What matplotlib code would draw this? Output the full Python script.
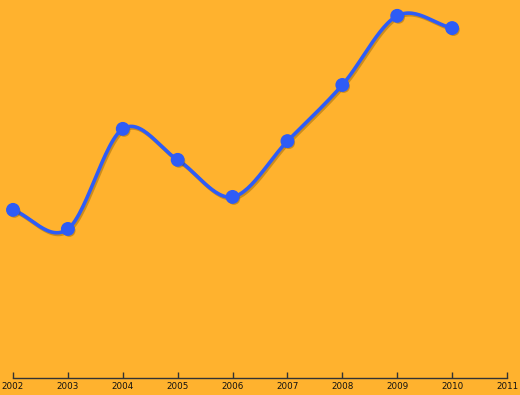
import numpy as np
import matplotlib
matplotlib.use("Agg")
import matplotlib.pyplot as plt
import matplotlib.patheffects as pe

years = [2002, 2003, 2004, 2005, 2006, 2007, 2008, 2009, 2010]
values = [46.7, 41.4, 69.2, 60.6, 50.3, 65.8, 81.4, 100.6, 97.2]
xticks = list(range(2002, 2012))

BG = "#FFB22E"
LINE = "#2E5CF6"


def catmull_rom(x, y, n=30):
    # smooth curve through the points for drawing only
    x = np.asarray(x, float)
    y = np.asarray(y, float)
    px = np.concatenate([[2 * x[0] - x[1]], x, [2 * x[-1] - x[-2]]])
    py = np.concatenate([[2 * y[0] - y[1]], y, [2 * y[-1] - y[-2]]])
    xs, ys = [], []
    t = np.linspace(0, 1, n)
    for i in range(1, len(px) - 2):
        p0, p1, p2, p3 = [np.array([px[j], py[j]]) for j in (i - 1, i, i + 1, i + 2)]
        tt = t[:, None]
        pts = 0.5 * ((2 * p1) + (-p0 + p2) * tt + (2 * p0 - 5 * p1 + 4 * p2 - p3) * tt ** 2
                     + (-p0 + 3 * p1 - 3 * p2 + p3) * tt ** 3)
        xs.extend(pts[:, 0])
        ys.extend(pts[:, 1])
    return np.array(xs), np.array(ys)


fig = plt.figure(figsize=(5.2, 3.95), dpi=100, facecolor=BG)
ax = fig.add_axes([13 / 520, 17 / 395, 494 / 520, 378 / 395])
ax.set_facecolor(BG)

sx, sy = catmull_rom(years, values)
shadow = [pe.SimpleLineShadow(offset=(1, -1.2), shadow_color="#6a4500", alpha=0.35), pe.Normal()]
ax.plot(sx, sy, color=LINE, lw=2.6, solid_capstyle="round", clip_on=False, path_effects=shadow)
ax.plot(years, values, "o", color=LINE, ms=9, mec=LINE, clip_on=False,
        path_effects=[pe.SimplePatchShadow(offset=(1, -1.2), shadow_rgbFace="#6a4500", alpha=0.35), pe.Normal()])

ax.set_xlim(2002, 2011)
ax.set_ylim(0, 105)
ax.set_xticks(xticks)
ax.set_xticklabels([str(x) for x in xticks], fontsize=6.3, color="#111111")
ax.set_yticks([])
for s in ["top", "left", "right"]:
    ax.spines[s].set_visible(False)
ax.spines["bottom"].set_color("#333333")
ax.spines["bottom"].set_linewidth(1)
ax.tick_params(axis="x", direction="in", length=4, width=1, color="#333333", pad=3)

fig.savefig("out.png", dpi=100, facecolor=BG)
